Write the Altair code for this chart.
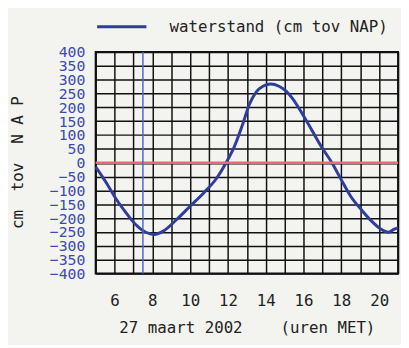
import altair as alt
import pandas as pd

# Water level curve (hours MET, cm relative to NAP)
hours = [5.0, 5.57, 6.1, 6.6, 7.1, 7.65, 8.1, 8.6, 9.3, 10.0, 10.7, 11.4, 11.9,
         12.35, 12.78, 13.13, 13.5, 13.85, 14.27, 14.7, 15.05, 15.4, 15.94, 16.45, 16.97,
         17.5, 18.0, 18.5, 19.05, 19.6, 20.1, 20.5, 20.8, 21.0]
levels = [-15, -73, -133, -180, -222, -251, -259, -246, -204, -157, -110, -56, 0,
          60, 139, 210, 256, 276, 284, 276, 260, 233, 176, 116, 55,
          0, -62, -122, -169, -211, -240, -251, -240, -235]
series_name = "waterstand (cm tov NAP)"

now_hour = [7.5]
zero_level = [0]

x_grid = list(range(5, 22))
y_grid = list(range(-400, 401, 50))

FONT = "DejaVu Sans Mono"
BLUE = "#2f3d9c"
NB = "\u00a0"

df = pd.DataFrame({"uur": hours, "stand": levels, "serie": [series_name] * len(hours)})
df_now = pd.DataFrame({"uur": now_hour})
df_zero = pd.DataFrame({"stand": zero_level})

xscale = alt.Scale(domain=[5, 21], nice=False, zero=False)
yscale = alt.Scale(domain=[-400, 400], nice=False)

xaxis = alt.Axis(values=x_grid, labelExpr="datum.value % 2 == 0 ? datum.label : ''",
                 ticks=False, domain=False, grid=True, gridColor="#111", gridWidth=1.5,
                 labelFont=FONT, labelFontSize=16, labelColor="#222", labelPadding=19,
                 labelOverlap=False,
                 title=f"27 maart 2002{NB*4}(uren MET)", titleFont=FONT, titleFontSize=16,
                 titleFontWeight="normal", titleColor="#222", titlePadding=12)
yaxis = alt.Axis(values=y_grid, ticks=False, domain=False, grid=True, gridColor="#111",
                 gridWidth=1.5, labelOverlap=False, labelBound=False,
                 labelFont=FONT, labelFontSize=15, labelColor="#3a4cb0", labelPadding=11,
                 labelBaseline="middle",
                 title=f"cm{NB*2}tov{NB*2}N{NB}A{NB}P", titleFont=FONT, titleFontSize=16,
                 titleFontWeight="normal", titleColor="#222",
                 titleX=-79, titleY=112, titleAlign="center", titleBaseline="middle",
                 titleAngle=270)

line = alt.Chart(df).mark_line(strokeWidth=3, interpolate="monotone").encode(
    x=alt.X("uur:Q", scale=xscale, axis=xaxis),
    y=alt.Y("stand:Q", scale=yscale, axis=yaxis),
    color=alt.Color("serie:N", scale=alt.Scale(range=[BLUE]),
                    legend=alt.Legend(title=None, orient="none", legendX=0, legendY=-52,
                                      symbolType="stroke", symbolSize=2500, symbolStrokeWidth=3,
                                      labelFont=FONT, labelFontSize=16, labelColor="#222",
                                      labelOffset=22, labelLimit=400, padding=0)),
)

vline = alt.Chart(df_now).mark_rule(color="#4a6ad0", strokeWidth=1.5).encode(
    x=alt.X("uur:Q", scale=xscale, axis=xaxis)
)
hline = alt.Chart(df_zero).mark_rule(color="#ee6677", strokeWidth=2.5).encode(
    y=alt.Y("stand:Q", scale=yscale, axis=yaxis)
)

chart = alt.layer(line, hline, vline).properties(
    width=307, height=225,
    background="#f3f3ef",
    autosize=alt.AutoSizeParams(type="none"),
    padding={"left": 89, "top": 42, "right": 3, "bottom": 70},
).configure_view(stroke="#111", strokeWidth=2)

chart.save("out.html", embed_options={"renderer": "svg", "actions": False})
